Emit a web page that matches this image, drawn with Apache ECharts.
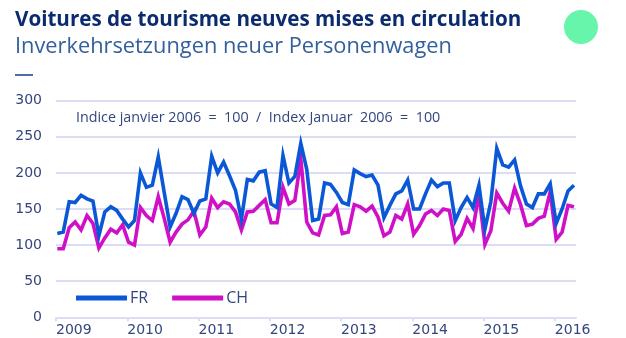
<!DOCTYPE html>
<html>
<head>
<meta charset="utf-8">
<script src="https://cdn.jsdelivr.net/npm/echarts@6/dist/echarts.min.js"></script>
<style>
  html, body { margin: 0; padding: 0; background: #ffffff; }
  #chart { width: 626px; height: 338px; }
</style>
</head>
<body>
<div id="chart"></div>
<script>
// Monthly index of new passenger car registrations, Jan 2009 – Apr 2016 (Jan 2006 = 100)
const startYear = 2009;
const yearTicks = ['2009', '2010', '2011', '2012', '2013', '2014', '2015', '2016'];
const yTicks = [0, 50, 100, 150, 200, 250, 300];

const FR = [
  116, 118, 160, 159, 169, 164, 161, 113, 146, 153, 148, 136,
  125, 134, 200, 180, 183, 222, 173, 125, 144, 167, 163, 144,
  161, 164, 223, 200, 215, 196, 176, 136, 191, 189, 201, 203,
  157, 152, 224, 186, 195, 241, 205, 134, 136, 186, 184, 173,
  159, 156, 204, 199, 195, 197, 183, 138, 155, 171, 175, 190,
  150, 150, 171, 190, 181, 186, 186, 134, 152, 166, 152, 183,
  122, 160, 234, 211, 208, 218, 182, 157, 152, 171, 171, 185,
  130, 150, 175, 183
];
const CH = [
   95,  95, 124, 132, 121, 141, 130,  96, 110, 122, 117, 128,
  104, 100, 152, 141, 134, 167, 137, 104, 118, 129, 135, 147,
  114, 125, 165, 152, 160, 157, 146, 121, 146, 147, 155, 163,
  131, 131, 180, 157, 162, 219, 132, 117, 114, 141, 142, 153,
  116, 118, 156, 153, 147, 154, 139, 113, 118, 141, 136, 157,
  115, 127, 143, 148, 141, 150, 148, 105, 115, 137, 123, 171,
  101, 120, 172, 158, 147, 179, 156, 127, 129, 137, 140, 174,
  108, 118, 155, 153
];

const seriesNames = ['FR', 'CH'];
const note = 'Indice janvier 2006  =  100  /  Index Januar  2006  =  100';
const titleFr = 'Voitures de tourisme neuves mises en circulation';
const titleDe = 'Inverkehrsetzungen neuer Personenwagen';

// x is measured in months since January of the first year; a month's value sits a little past its start
const MONTH_OFFSET = 0.22;
const toPoints = arr => arr.map((v, i) => [i + MONTH_OFFSET, v]);
const yearValues = yearTicks.map((_, k) => k * 12);

const textColor = '#34467e';
const gridColor = '#dcdcf6';
const fontFamily = '"Open Sans", "Noto Sans", sans-serif';
const axisFont = '"DejaVu Sans", sans-serif';

const chart = echarts.init(document.getElementById('chart'), null, { renderer: 'canvas' });

chart.setOption({
  animation: false,
  backgroundColor: '#ffffff',
  textStyle: { fontFamily: fontFamily },
  grid: { left: 56, top: 100.7, width: 520, height: 216.6, containLabel: false },
  xAxis: {
    type: 'value',
    min: 0,
    max: 87.56,
    interval: 12,
    axisLine: { show: true, lineStyle: { color: gridColor, width: 2 } },
    axisTick: {
      show: true, length: 4, inside: false,
      lineStyle: { color: gridColor, width: 2 },
      customValues: yearValues
    },
    splitLine: { show: false },
    axisLabel: {
      color: textColor,
      fontSize: 14,
      fontFamily: axisFont,
      margin: 6,
      align: 'left',
      customValues: yearValues,
      formatter: v => (v % 12 === 0 ? String(startYear + v / 12) : '')
    }
  },
  yAxis: {
    type: 'value',
    min: 0,
    max: 300,
    interval: 50,
    axisLine: { show: false },
    axisTick: { show: false },
    splitLine: { show: true, lineStyle: { color: gridColor, width: 2 } },
    axisLabel: {
      color: textColor,
      fontSize: 14,
      fontFamily: axisFont,
      margin: 14,
      formatter: v => (yTicks.indexOf(v) >= 0 ? String(v) : '')
    }
  },
  legend: {
    left: 76,
    top: 290,
    padding: 0,
    itemWidth: 51,
    itemHeight: 16,
    itemGap: 24,
    icon: 'path://M0,5.5 L51,5.5 L51,10.5 L0,10.5 Z',
    textStyle: { color: textColor, fontSize: 16, fontFamily: fontFamily, padding: [0, 0, 0, -2] },
    data: seriesNames
  },
  series: [
    {
      name: seriesNames[0],
      type: 'line',
      data: toPoints(FR),
      symbol: 'none',
      color: '#0a58d6',
      lineStyle: { color: '#0a58d6', width: 3.6, join: 'miter' },
      z: 3
    },
    {
      name: seriesNames[1],
      type: 'line',
      data: toPoints(CH),
      symbol: 'none',
      color: '#d010c6',
      lineStyle: { color: '#d010c6', width: 3.6, join: 'miter' },
      z: 2
    }
  ],
  graphic: [
    {
      type: 'text', left: 15, top: 10,
      style: { text: titleFr, fill: '#0b2b6e', font: 'bold 20.6px "Open Sans", sans-serif' }
    },
    {
      type: 'text', left: 15, top: 36,
      style: { text: titleDe, fill: '#33609b', font: '21.8px "Open Sans", sans-serif' }
    },
    {
      type: 'rect', shape: { x: 15, y: 74, width: 18, height: 2 },
      style: { fill: '#4f6ea3' }
    },
    {
      type: 'circle', shape: { cx: 581, cy: 27, r: 17 },
      style: { fill: '#66f5aa' }
    },
    {
      type: 'text', left: 76, top: 111,
      style: { text: note, fill: textColor, font: '14.3px "Open Sans", sans-serif' }
    }
  ]
});
</script>
</body>
</html>
